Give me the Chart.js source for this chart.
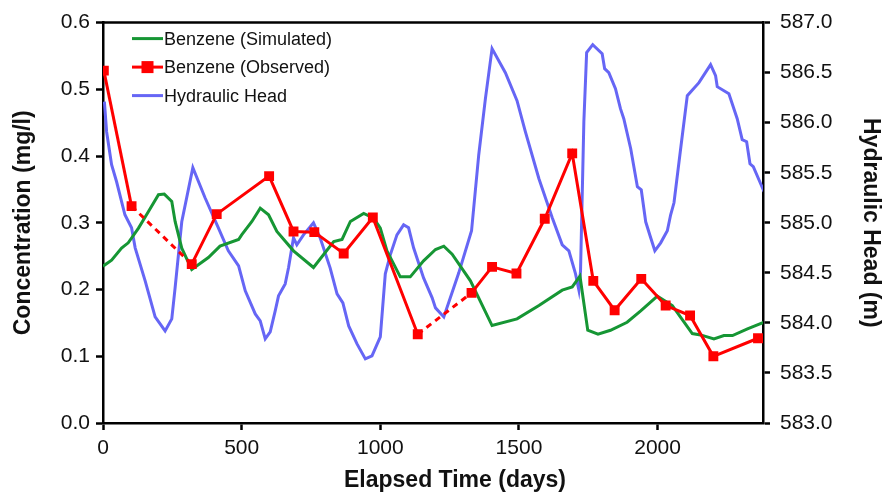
<!DOCTYPE html>
<html>
<head>
<meta charset="utf-8">
<script src="https://cdn.jsdelivr.net/npm/chart.js@4.4.1/dist/chart.umd.min.js"></script>
<style>
  html, body { margin: 0; padding: 0; background: #fff; }
  #wrap { width: 888px; height: 495px; }
</style>
</head>
<body>
<div id="wrap"><canvas id="benzeneChart" width="888" height="495"></canvas></div>
<script>
// Benzene (Simulated) - concentration, mg/l
const simDays = [0, 31, 67, 91, 128, 164, 200, 221, 248, 260, 284, 320, 380, 422, 489, 500, 537, 567, 597, 627, 687, 759, 832, 862, 892, 940, 976, 1000, 1024, 1072, 1108, 1156, 1199, 1229, 1259, 1325, 1403, 1493, 1572, 1656, 1692, 1720, 1748, 1785, 1830, 1890, 1939, 1999, 2053, 2125, 2155, 2203, 2239, 2270, 2324, 2384];
const simConc = [0.235, 0.244, 0.262, 0.270, 0.292, 0.317, 0.342, 0.343, 0.332, 0.302, 0.262, 0.230, 0.248, 0.265, 0.275, 0.282, 0.302, 0.322, 0.312, 0.287, 0.258, 0.233, 0.272, 0.275, 0.302, 0.314, 0.307, 0.292, 0.258, 0.219, 0.219, 0.243, 0.260, 0.265, 0.253, 0.213, 0.146, 0.156, 0.176, 0.199, 0.204, 0.220, 0.139, 0.133, 0.139, 0.151, 0.168, 0.190, 0.176, 0.134, 0.132, 0.126, 0.131, 0.131, 0.141, 0.151];

// Benzene (Observed) - concentration, mg/l
const obsDays = [3, 103, 320, 410, 599, 687, 762, 868, 973, 1135, 1329, 1403, 1491, 1593, 1692, 1768, 1845, 1941, 2029, 2117, 2201, 2362];
const obsConc = [0.528, 0.325, 0.238, 0.313, 0.370, 0.287, 0.286, 0.254, 0.308, 0.133, 0.195, 0.234, 0.224, 0.306, 0.404, 0.213, 0.169, 0.216, 0.176, 0.161, 0.100, 0.127];
// segments starting at these indices are drawn dashed (no samples in between)
const obsGapStarts = [1, 9];

// Hydraulic Head - m
const headDays = [5, 13, 31, 49, 79, 103, 116, 152, 188, 224, 248, 260, 284, 324, 368, 416, 452, 489, 513, 549, 567, 585, 603, 621, 633, 657, 669, 687, 699, 723, 759, 783, 819, 844, 865, 886, 916, 946, 970, 1000, 1018, 1036, 1060, 1084, 1102, 1120, 1156, 1187, 1199, 1229, 1283, 1329, 1355, 1379, 1403, 1451, 1493, 1523, 1572, 1620, 1656, 1680, 1704, 1716, 1722, 1734, 1744, 1766, 1800, 1809, 1824, 1848, 1866, 1878, 1903, 1927, 1941, 1957, 1975, 1990, 2011, 2035, 2047, 2059, 2083, 2107, 2149, 2191, 2209, 2215, 2257, 2287, 2305, 2321, 2333, 2345, 2384];
const headLevel = [586.21, 585.91, 585.58, 585.41, 585.08, 584.95, 584.75, 584.42, 584.06, 583.92, 584.04, 584.35, 585.01, 585.55, 585.25, 584.95, 584.72, 584.57, 584.32, 584.09, 584.02, 583.84, 583.91, 584.12, 584.27, 584.39, 584.55, 584.85, 584.78, 584.88, 585.00, 584.85, 584.55, 584.29, 584.20, 583.97, 583.79, 583.64, 583.67, 583.86, 584.49, 584.68, 584.88, 584.98, 584.95, 584.75, 584.45, 584.25, 584.15, 584.06, 584.50, 584.92, 585.68, 586.24, 586.74, 586.50, 586.22, 585.91, 585.44, 585.05, 584.78, 584.72, 584.49, 584.33, 584.52, 586.01, 586.70, 586.78, 586.69, 586.54, 586.50, 586.34, 586.14, 586.04, 585.74, 585.36, 585.33, 585.01, 584.85, 584.72, 584.80, 584.92, 585.08, 585.20, 585.74, 586.27, 586.40, 586.58, 586.47, 586.36, 586.29, 586.04, 585.83, 585.81, 585.59, 585.56, 585.31];

const xTicks = [0, 500, 1000, 1500, 2000];
const xTitle = "Elapsed Time (days)";

const GREEN = "rgb(22, 150, 52)";
const RED = "rgb(255, 0, 0)";
const BLUE = "rgb(102, 102, 245)";
const FONT = "Arial, 'Liberation Sans', sans-serif";

const toPoints = (xs, ys) => xs.map((x, i) => ({ x: x, y: ys[i] }));

// legend inside the plot (top-left), top frame line and the x title
const extras = {
  id: "extras",
  afterDraw(chart) {
    const ctx = chart.ctx;
    const area = chart.chartArea;
    const x0 = area.left + 29;
    const x1 = x0 + 31;
    let y = area.top + 16;
    ctx.save();
    ctx.font = "18px " + FONT;
    ctx.textBaseline = "middle";
    chart.data.datasets.forEach(ds => {
      ctx.strokeStyle = ds.borderColor;
      ctx.lineWidth = 3;
      ctx.setLineDash([]);
      ctx.beginPath();
      ctx.moveTo(x0, y);
      ctx.lineTo(x1, y);
      ctx.stroke();
      if (ds.pointRadius > 0) {
        ctx.fillStyle = ds.borderColor;
        ctx.fillRect((x0 + x1) / 2 - 6, y - 6, 12, 12);
      }
      ctx.fillStyle = "#111";
      ctx.fillText(ds.label, x1 + 1, y + 1);
      y += 28.5;
    });

    ctx.strokeStyle = "#000";
    ctx.lineWidth = 2.5;
    ctx.beginPath();
    ctx.moveTo(area.left, area.top);
    ctx.lineTo(area.right, area.top);
    ctx.stroke();

    // x axis title sits a little right of the plot centre in the original
    ctx.font = "bold 23px " + FONT;
    ctx.textAlign = "center";
    ctx.fillStyle = "#111";
    ctx.fillText(xTitle, (area.left + area.right) / 2 + 22, 481);
    ctx.restore();
  },
};

const tickFont = { family: FONT, size: 21 };
const titleFont = { family: FONT, size: 23, weight: "bold" };

const ctx = document.getElementById("benzeneChart").getContext("2d");
new Chart(ctx, {
  type: "line",
  data: {
    datasets: [
      {
        label: "Benzene (Simulated)",
        data: toPoints(simDays, simConc),
        yAxisID: "y",
        borderColor: GREEN,
        backgroundColor: GREEN,
        borderWidth: 3,
        pointRadius: 0,
        order: 1,
      },
      {
        label: "Benzene (Observed)",
        data: toPoints(obsDays, obsConc),
        yAxisID: "y",
        borderColor: RED,
        backgroundColor: RED,
        borderWidth: 3,
        pointStyle: "rect",
        pointRadius: 7,
        pointBorderWidth: 0,
        segment: {
          borderDash: c => (obsGapStarts.includes(c.p0DataIndex) ? [6, 5] : undefined),
        },
        order: 0,
      },
      {
        label: "Hydraulic Head",
        data: toPoints(headDays, headLevel),
        yAxisID: "y2",
        borderColor: BLUE,
        backgroundColor: BLUE,
        borderWidth: 3,
        pointRadius: 0,
        order: 2,
      },
    ],
  },
  options: {
    responsive: false,
    animation: false,
    layout: { padding: { top: 20, left: 0, right: 0, bottom: 0 } },
    plugins: {
      legend: { display: false },
      tooltip: { enabled: false },
    },
    scales: {
      x: {
        type: "linear",
        min: 0,
        max: 2380,
        afterFit: s => { s.height = 72; },
        afterBuildTicks: s => { s.ticks = xTicks.map(v => ({ value: v })); },
        ticks: { font: tickFont, color: "#111", padding: 6, maxRotation: 0, callback: v => String(v) },
        grid: { drawOnChartArea: false, tickLength: 7, tickColor: "#000", tickWidth: 2.5 },
        border: { color: "#000", width: 2.5 },
      },
      y: {
        position: "left",
        min: 0,
        max: 0.6,
        afterFit: s => { s.width = 103; },
        ticks: { stepSize: 0.1, font: tickFont, color: "#111", padding: 6, callback: v => v.toFixed(1) },
        grid: { drawOnChartArea: false, tickLength: 7, tickColor: "#000", tickWidth: 2.5 },
        border: { color: "#000", width: 2.5 },
        title: { display: true, text: "Concentration (mg/l)", font: titleFont, color: "#111", padding: { top: 10 } },
      },
      y2: {
        position: "right",
        min: 583,
        max: 587,
        afterFit: s => { s.width = 125; },
        ticks: { stepSize: 0.5, font: tickFont, color: "#111", padding: 10, callback: v => v.toFixed(1) },
        grid: { drawOnChartArea: false, tickLength: 7, tickColor: "#000", tickWidth: 2.5 },
        border: { color: "#000", width: 2.5 },
        title: { display: true, text: "Hydraulic Head (m)", font: titleFont, color: "#111", padding: { top: 4 } },
      },
    },
  },
  plugins: [extras],
});
</script>
</body>
</html>
